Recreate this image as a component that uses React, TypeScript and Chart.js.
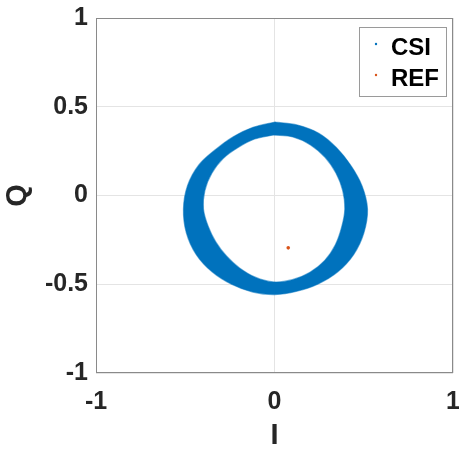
import React, { useEffect, useRef } from 'react';
import { Chart, registerables } from 'chart.js';

Chart.register(...registerables);

// CSI cloud: outer and inner edge of the ring, read clockwise from the top
const outerI = [0.003, 0.129, 0.248, 0.347, 0.427, 0.49, 0.521, 0.501, 0.444, 0.355, 0.245, 0.126, 0.003, -0.122, -0.241, -0.35, -0.439, -0.494, -0.51, -0.487, -0.424, -0.33, -0.231, -0.12];
const outerQ = [0.414, 0.397, 0.351, 0.27, 0.17, 0.055, -0.076, -0.21, -0.332, -0.43, -0.498, -0.539, -0.558, -0.544, -0.5, -0.43, -0.332, -0.21, -0.076, 0.056, 0.172, 0.259, 0.331, 0.384];
const innerI = [-0.006, 0.103, 0.202, 0.283, 0.344, 0.382, 0.394, 0.376, 0.341, 0.282, 0.199, 0.1, -0.006, -0.108, -0.196, -0.269, -0.328, -0.371, -0.398, -0.39, -0.351, -0.288, -0.204, -0.111];
const innerQ = [0.341, 0.33, 0.285, 0.215, 0.127, 0.028, -0.076, -0.179, -0.277, -0.365, -0.432, -0.474, -0.487, -0.46, -0.408, -0.341, -0.263, -0.175, -0.076, 0.028, 0.125, 0.208, 0.27, 0.318];

// REF point
const refI = [0.077];
const refQ = [-0.295];

const seriesLabels = ['CSI', 'REF'];
const xTicks = [-1, 0, 1];
const yTicks = [-1, -0.5, 0, 0.5, 1];

const BLUE = '#0072BD';
const RED = '#D95319';
const FONT = "'Liberation Sans', Arial, Helvetica, sans-serif";
const TEXT = '#262626';

// one closed path: outer edge clockwise, a zero-width bridge (repeated corner
// points keep the curve from bulging there), then the inner edge the other way round
function ringPoints() {
  const pts: { x: number; y: number }[] = [];
  outerI.forEach((x, i) => pts.push({ x, y: outerQ[i] }));
  pts.push({ x: outerI[0], y: outerQ[0] });
  pts.push({ x: outerI[0], y: outerQ[0] });
  pts.push({ x: innerI[0], y: innerQ[0] });
  pts.push({ x: innerI[0], y: innerQ[0] });
  for (let i = innerI.length - 1; i >= 0; i--) pts.push({ x: innerI[i], y: innerQ[i] });
  return pts;
}

const framePlugin = {
  id: 'frame',
  afterDatasetsDraw(chart: any) {
    const { ctx, chartArea: a } = chart;
    ctx.save();
    ctx.strokeStyle = '#8a8a8a';
    ctx.lineWidth = 1;
    ctx.strokeRect(a.left + 0.5, a.top + 0.5, a.right - a.left - 1, a.bottom - a.top - 1);
    ctx.restore();
  },
};

const legendPlugin = {
  id: 'boxLegend',
  afterDraw(chart: any) {
    const { ctx, chartArea: a } = chart;
    const w = 88;
    const h = 70;
    const x0 = a.right - 6 - w;
    const y0 = a.top + 9;
    ctx.save();
    ctx.fillStyle = '#ffffff';
    ctx.fillRect(x0, y0, w, h);
    ctx.strokeStyle = '#9a9a9a';
    ctx.lineWidth = 1;
    ctx.strokeRect(x0 + 0.5, y0 + 0.5, w - 1, h - 1);
    const colors = [BLUE, RED];
    ctx.font = `bold 24px ${FONT}`;
    ctx.textBaseline = 'middle';
    ctx.textAlign = 'left';
    seriesLabels.forEach((lab, i) => {
      const cy = y0 + 20 + i * 31;
      ctx.fillStyle = colors[i];
      ctx.beginPath();
      ctx.arc(x0 + 17, cy - 3, 1.2, 0, Math.PI * 2);
      ctx.fill();
      ctx.fillStyle = '#000000';
      ctx.fillText(lab, x0 + 32, cy + 1);
    });
    ctx.restore();
  },
};

export default function App() {
  const ref = useRef<HTMLCanvasElement | null>(null);
  useEffect(() => {
    document.body.style.margin = '0';
    const canvas = ref.current;
    if (!canvas) return;
    const chart = new Chart(canvas, {
      type: 'scatter',
      data: {
        datasets: [
          {
            label: seriesLabels[0],
            data: ringPoints(),
            showLine: true,
            fill: 'shape',
            backgroundColor: BLUE,
            borderColor: 'rgba(0,114,189,0.55)',
            borderWidth: 1.2,
            pointRadius: 0,
            tension: 0.33,
            order: 1,
          } as any,
          {
            label: seriesLabels[1],
            data: refI.map((x, i) => ({ x, y: refQ[i] })),
            backgroundColor: RED,
            borderWidth: 0,
            pointRadius: 1.8,
            order: 0,
          },
        ],
      },
      options: {
        responsive: false,
        animation: false,
        layout: { autoPadding: false, padding: { top: 18, right: 6, left: 0, bottom: 0 } },
        plugins: { legend: { display: false }, tooltip: { enabled: false } },
        scales: {
          x: {
            type: 'linear',
            min: -1,
            max: 1,
            afterBuildTicks: (s: any) => { s.ticks = xTicks.map((v) => ({ value: v })); },
            afterFit: (s: any) => { s.height = 77; s.paddingLeft = 0; s.paddingRight = 0; },
            grid: { color: '#e4e4e4', drawTicks: false },
            border: { display: false },
            ticks: { color: TEXT, padding: 14, maxRotation: 0, callback: (v: any) => String(v), font: { family: FONT, size: 25, weight: 'bold' } },
            title: { display: true, text: 'I', color: TEXT, padding: { top: 0, bottom: 0 }, font: { family: FONT, size: 29, weight: 'bold', lineHeight: 1 } },
          },
          y: {
            type: 'linear',
            min: -1,
            max: 1,
            afterBuildTicks: (s: any) => { s.ticks = yTicks.map((v) => ({ value: v })); },
            afterFit: (s: any) => { s.width = 96; s.paddingTop = 0; s.paddingBottom = 0; },
            grid: { color: '#e4e4e4', drawTicks: false },
            border: { display: false },
            ticks: { color: TEXT, padding: 8, callback: (v: any) => String(v), font: { family: FONT, size: 25, weight: 'bold' } },
            title: { display: true, text: 'Q', color: TEXT, padding: { top: 3, bottom: 0 }, font: { family: FONT, size: 29, weight: 'bold', lineHeight: 1 } },
          },
        },
      },
      plugins: [framePlugin, legendPlugin],
    });
    return () => chart.destroy();
  }, []);
  return (
    <div style={{ width: 459, height: 450 }}>
      <canvas ref={ref} width={459} height={450} style={{ display: 'block' }} />
    </div>
  );
}
